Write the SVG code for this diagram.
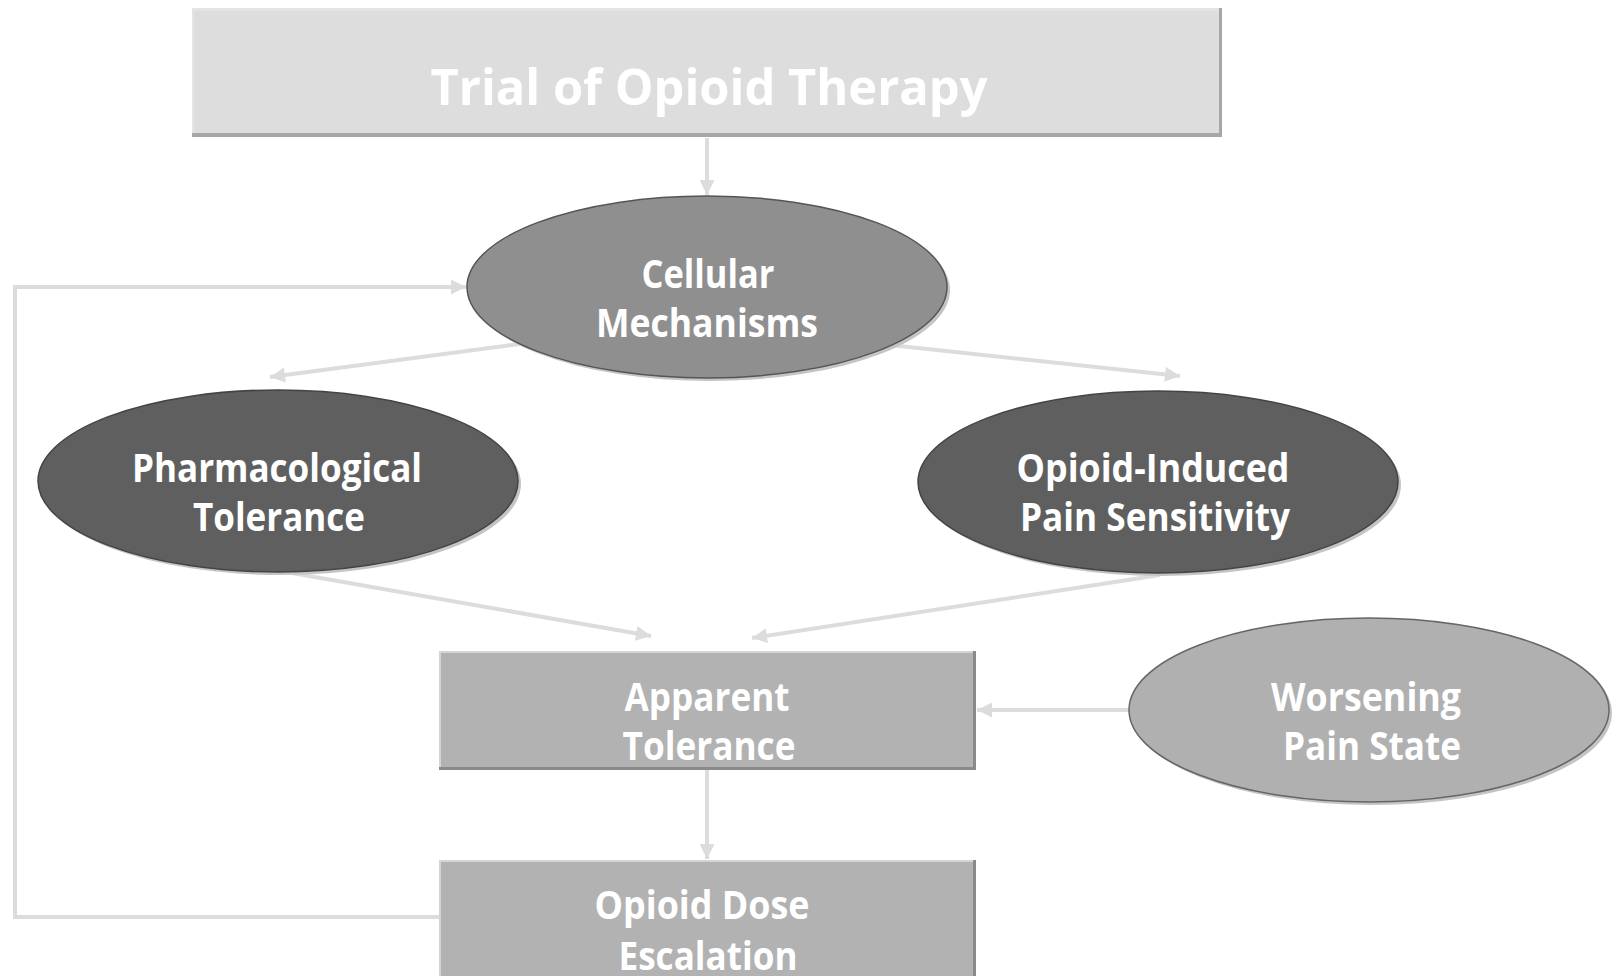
<svg xmlns="http://www.w3.org/2000/svg" width="1618" height="976" viewBox="0 0 1618 976">
<defs>
<style>
.lbl{font-family:"Open Sans","Liberation Sans",sans-serif;font-weight:bold;fill:#ffffff;text-anchor:middle}
.conn{stroke:#dcdcdc;stroke-width:4;fill:none}
.arr{stroke:#dcdcdc;stroke-width:4;fill:none;marker-end:url(#ah)}
.eshadow{fill:#c4c4c4}
</style>
<marker id="ah" viewBox="0 0 10 10" refX="10" refY="5" markerWidth="16" markerHeight="15" markerUnits="userSpaceOnUse" orient="auto">
<path d="M0,0 L10,5 L0,10 z" fill="#dcdcdc"/>
</marker>
</defs>
<rect width="1618" height="976" fill="#ffffff"/>

<g id="connectors">
<line class="arr" x1="707" y1="138" x2="707" y2="195"/>
<line class="arr" x1="520" y1="344" x2="270" y2="377"/>
<line class="arr" x1="890" y1="345" x2="1180" y2="376"/>
<line class="arr" x1="292" y1="573" x2="651" y2="636"/>
<line class="arr" x1="1160" y1="575" x2="752" y2="638"/>
<line class="arr" x1="1130" y1="710" x2="977" y2="710"/>
<line class="arr" x1="707" y1="770" x2="707" y2="859"/>
<polyline class="arr" points="440,917 15,917 15,287 466,287"/>
</g>

<g id="node-trial">
<rect x="192" y="8" width="1030" height="129" fill="#a6a6a6"/>
<rect x="192" y="8" width="1027" height="125" fill="#e4e4e4"/>
<rect x="194" y="11" width="1025" height="122" fill="#dddddd"/>
<text class="lbl" x="709" y="105" font-size="50" textLength="557" lengthAdjust="spacingAndGlyphs">Trial of Opioid Therapy</text>
</g>

<g id="node-cellular">
<ellipse class="eshadow" cx="710" cy="290" rx="240" ry="91"/>
<ellipse cx="707" cy="287" rx="240" ry="91" fill="#8f8f8f" stroke="#555555" stroke-width="1.5"/>
<text class="lbl" x="708" y="288" font-size="40" textLength="133" lengthAdjust="spacingAndGlyphs">Cellular</text>
<text class="lbl" x="707" y="337" font-size="40" textLength="222" lengthAdjust="spacingAndGlyphs">Mechanisms</text>
</g>

<g id="node-pharm">
<ellipse class="eshadow" cx="281" cy="484" rx="240" ry="91"/>
<ellipse cx="278" cy="481" rx="240" ry="91" fill="#5f5f5f" stroke="#444444" stroke-width="1.5"/>
<text class="lbl" x="277" y="482" font-size="40" textLength="290" lengthAdjust="spacingAndGlyphs">Pharmacological</text>
<text class="lbl" x="279" y="531" font-size="40" textLength="172" lengthAdjust="spacingAndGlyphs">Tolerance</text>
</g>

<g id="node-oips">
<ellipse class="eshadow" cx="1161" cy="485" rx="240" ry="91"/>
<ellipse cx="1158" cy="482" rx="240" ry="91" fill="#5f5f5f" stroke="#444444" stroke-width="1.5"/>
<text class="lbl" x="1153" y="482" font-size="40" textLength="273" lengthAdjust="spacingAndGlyphs">Opioid-Induced</text>
<text class="lbl" x="1155" y="531" font-size="40" textLength="270" lengthAdjust="spacingAndGlyphs">Pain Sensitivity</text>
</g>

<g id="node-apparent">
<rect x="439" y="651" width="537" height="119" fill="#8a8a8a"/>
<rect x="439" y="651" width="534" height="116" fill="#d4d4d4"/>
<rect x="441" y="653" width="532" height="114" fill="#b2b2b2"/>
<text class="lbl" x="707" y="711" font-size="40" textLength="165" lengthAdjust="spacingAndGlyphs">Apparent</text>
<text class="lbl" x="709" y="760" font-size="40" textLength="173" lengthAdjust="spacingAndGlyphs">Tolerance</text>
</g>

<g id="node-worsening">
<ellipse class="eshadow" cx="1372" cy="713" rx="240" ry="92" fill="#d0d0d0"/>
<ellipse cx="1369" cy="710" rx="240" ry="92" fill="#b0b0b0" stroke="#666666" stroke-width="1.5"/>
<text class="lbl" x="1366" y="711" font-size="40" textLength="190" lengthAdjust="spacingAndGlyphs">Worsening</text>
<text class="lbl" x="1372" y="760" font-size="40" textLength="178" lengthAdjust="spacingAndGlyphs">Pain State</text>
</g>

<g id="node-dose">
<rect x="439" y="860" width="537" height="120" fill="#8a8a8a"/>
<rect x="439" y="860" width="534" height="120" fill="#d4d4d4"/>
<rect x="441" y="862" width="532" height="118" fill="#b2b2b2"/>
<text class="lbl" x="702" y="919" font-size="40" textLength="215" lengthAdjust="spacingAndGlyphs">Opioid Dose</text>
<text class="lbl" x="708" y="970" font-size="40" textLength="179" lengthAdjust="spacingAndGlyphs">Escalation</text>
</g>
</svg>
